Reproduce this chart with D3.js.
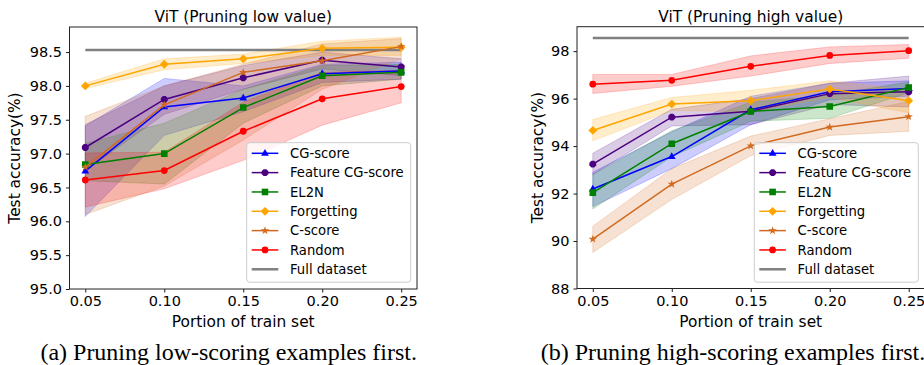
<!DOCTYPE html>
<html>
<head>
<meta charset="utf-8">
<script src="https://cdn.jsdelivr.net/npm/d3@7"></script>
<style>
  body { margin: 0; background: #fff; }
  svg { display: block; }
  text { font-family: "DejaVu Sans", sans-serif; fill: #000; }
  .caption { font-family: "Liberation Serif", "Times New Roman", serif; }
</style>
</head>
<body>
<svg id="fig" width="924" height="365"></svg>
<script>
// ---- shared categories ----
const portions = [0.05, 0.10, 0.15, 0.20, 0.25];
const methodNames = ["CG-score", "Feature CG-score", "EL2N", "Forgetting", "C-score", "Random"];
const fullName = "Full dataset";

// ---- (a) pruning low value: mean test accuracy and shaded [low, high] range ----
const lowCG        = [96.74, 97.69, 97.82, 98.18, 98.22];
const lowCGBand    = [[96.07, 97.41], [97.27, 98.11], [97.62, 98.00], [98.05, 98.32], [98.10, 98.35]];
const lowFeat      = [97.09, 97.80, 98.12, 98.38, 98.28];
const lowFeatBand  = [[96.75, 97.43], [97.58, 98.00], [97.95, 98.30], [98.25, 98.50], [98.15, 98.40]];
const lowEL2N      = [96.84, 97.00, 97.68, 98.15, 98.20];
const lowEL2NBand  = [[96.60, 97.15], [96.55, 97.45], [97.45, 97.95], [98.00, 98.30], [98.10, 98.32]];
const lowForg      = [98.00, 98.32, 98.40, 98.555, 98.57];
const lowForgBand  = [[97.96, 98.04], [98.24, 98.40], [98.33, 98.47], [98.45, 98.66], [98.45, 98.72]];
const lowCS        = [96.80, 97.72, 98.20, 98.37, 98.58];
const lowCSBand    = [[96.10, 97.55], [96.52, 98.00], [97.20, 98.32], [97.95, 98.62], [98.40, 98.70]];
const lowRand      = [96.61, 96.75, 97.33, 97.81, 97.99];
const lowRandBand  = [[96.21, 97.01], [96.48, 97.02], [96.90, 97.76], [97.42, 98.20], [97.75, 98.23]];
const lowFull      = [98.53, 98.53, 98.53, 98.53, 98.53];

// ---- (b) pruning high value ----
const highCG       = [92.19, 93.56, 95.53, 96.29, 96.43];
const highCGBand   = [[91.45, 92.90], [93.05, 94.60], [94.90, 96.10], [95.95, 96.65], [96.10, 96.75]];
const highFeat     = [93.24, 95.22, 95.47, 96.21, 96.29];
const highFeatBand = [[92.80, 93.70], [94.85, 95.55], [94.90, 96.00], [95.75, 96.65], [95.65, 96.95]];
const highEL2N     = [92.04, 94.10, 95.46, 95.67, 96.47];
const highEL2NBand = [[91.35, 92.80], [93.55, 94.65], [95.05, 95.85], [95.17, 96.15], [96.25, 96.70]];
const highForg     = [94.66, 95.77, 95.91, 96.40, 95.91];
const highForgBand = [[94.22, 95.12], [95.50, 96.05], [95.45, 96.35], [96.05, 96.75], [95.40, 96.35]];
const highCS       = [90.08, 92.40, 94.01, 94.80, 95.24];
const highCSBand   = [[89.52, 90.62], [91.75, 93.05], [93.60, 94.42], [94.45, 95.15], [94.62, 95.88]];
const highRand     = [96.61, 96.77, 97.36, 97.82, 98.02];
const highRandBand = [[96.22, 97.02], [96.52, 97.02], [96.95, 97.80], [97.48, 98.18], [97.70, 98.28]];
const highFull     = [98.55, 98.55, 98.55, 98.55, 98.55];

// ---- tick labels ----
const xTicks = [0.05, 0.10, 0.15, 0.20, 0.25];
const lowYTicks = [95.0, 95.5, 96.0, 96.5, 97.0, 97.5, 98.0, 98.5];
const highYTicks = [88, 90, 92, 94, 96, 98];

// ---- styling per method ----
const colors = ["#0000ff", "#4b0082", "#008000", "#ffa500", "#d2691e", "#ff0000"];
const markers = ["triangle", "octagon", "square", "diamond", "star", "circle"];
const fullColor = "#808080";

function markerPath(kind) {
  switch (kind) {
    case "triangle": return "M0,-4.4L3.9,2.4L-3.9,2.4Z";
    case "square": return "M-3.3,-3.3H3.3V3.3H-3.3Z";
    case "diamond": return "M0,-4.4L4.4,0L0,4.4L-4.4,0Z";
    case "circle": return d3.symbol(d3.symbolCircle, 36)();
    case "star": return d3.symbol(d3.symbolStar, 22)();
    case "octagon": {
      const pts = d3.range(8).map(i => {
        const a = Math.PI / 8 + i * Math.PI / 4;
        return [3.7 * Math.cos(a), 3.7 * Math.sin(a)];
      });
      return "M" + pts.map(p => p.join(",")).join("L") + "Z";
    }
  }
}

const svg = d3.select("#fig");
let clipId = 0;

function drawPanel(cfg) {
  const top = cfg.top, bottom = cfg.bottom;
  const x = d3.scaleLinear().domain([0.04, 0.26]).range([cfg.left, cfg.right]);
  const y = d3.scaleLinear().domain(cfg.yDomain).range([bottom, top]);
  const g = svg.append("g");

  const cid = "clip" + (clipId++);
  g.append("clipPath").attr("id", cid).append("rect")
    .attr("x", cfg.left).attr("y", top)
    .attr("width", cfg.right - cfg.left).attr("height", bottom - top);
  const plot = g.append("g").attr("clip-path", `url(#${cid})`);

  // shaded ranges (below all lines)
  const area = d3.area()
    .x(d => x(d[0]))
    .y0(d => y(d[1][0]))
    .y1(d => y(d[1][1]));
  cfg.series.forEach((s, i) => {
    plot.append("path")
      .datum(d3.zip(portions, s.band))
      .attr("d", area)
      .attr("fill", colors[i]).attr("fill-opacity", 0.2)
      .attr("stroke", colors[i]).attr("stroke-opacity", 0.2).attr("stroke-width", 1);
  });

  const line = d3.line().x(d => x(d[0])).y(d => y(d[1]));

  // full dataset reference
  plot.append("path")
    .datum(d3.zip(portions, cfg.full))
    .attr("d", line)
    .attr("fill", "none").attr("stroke", fullColor).attr("stroke-width", 2.5);

  // method lines and markers
  cfg.series.forEach((s, i) => {
    plot.append("path")
      .datum(d3.zip(portions, s.mean))
      .attr("d", line)
      .attr("fill", "none").attr("stroke", colors[i]).attr("stroke-width", 1.5);
    plot.selectAll(null)
      .data(d3.zip(portions, s.mean))
      .enter().append("path")
      .attr("transform", d => `translate(${x(d[0])},${y(d[1])})`)
      .attr("d", markerPath(markers[i]))
      .attr("fill", colors[i]);
  });

  // axes
  const xAxis = g.append("g").attr("transform", `translate(0,${bottom})`)
    .call(d3.axisBottom(x).tickValues(xTicks).tickFormat(d3.format(".2f")).tickSizeInner(3.5).tickSizeOuter(0).tickPadding(3.5));
  const yAxis = g.append("g").attr("transform", `translate(${cfg.left},0)`)
    .call(d3.axisLeft(y).tickValues(cfg.yTicks).tickFormat(cfg.yFormat).tickSizeInner(3.5).tickSizeOuter(0).tickPadding(4));
  [xAxis, yAxis].forEach(a => {
    a.select(".domain").remove();
    a.selectAll(".tick line").attr("stroke", "#000").attr("stroke-width", 0.9);
    a.selectAll(".tick text").style("font-family", "DejaVu Sans").style("font-size", "14.5px").attr("fill", "#000");
  });

  // frame
  g.append("rect")
    .attr("x", cfg.left).attr("y", top)
    .attr("width", cfg.right - cfg.left).attr("height", bottom - top)
    .attr("fill", "none").attr("stroke", "#222").attr("stroke-width", 1);

  // title and axis labels
  g.append("text").attr("x", (cfg.left + cfg.right) / 2).attr("y", 22)
    .attr("text-anchor", "middle").style("font-size", "15.4px").text(cfg.title);
  g.append("text").attr("x", (cfg.left + cfg.right) / 2).attr("y", 327)
    .attr("text-anchor", "middle").style("font-size", "15.4px").text("Portion of train set");
  g.append("text")
    .attr("transform", `translate(${cfg.ylabelX},${(top + bottom) / 2}) rotate(-90)`)
    .attr("text-anchor", "middle").attr("dy", "0.35em")
    .style("font-size", "15.4px").text("Test accuracy(%)");

  // legend
  const lx = cfg.legendX, ly = 142.7, lw = 164, lh = 139.5, step = 19.33;
  const lg = g.append("g");
  lg.append("rect").attr("x", lx).attr("y", ly).attr("width", lw).attr("height", lh)
    .attr("rx", 3).attr("fill", "#fff").attr("fill-opacity", 0.8)
    .attr("stroke", "#cccccc").attr("stroke-width", 1);
  const entries = methodNames.map((n, i) => ({ name: n, color: colors[i], marker: markers[i], width: 1.5 }))
    .concat([{ name: fullName, color: fullColor, marker: null, width: 2.5 }]);
  entries.forEach((e, i) => {
    const cy = ly + 10.6 + i * step;
    lg.append("line").attr("x1", lx + 5).attr("x2", lx + 31.6).attr("y1", cy).attr("y2", cy)
      .attr("stroke", e.color).attr("stroke-width", e.width);
    if (e.marker) {
      lg.append("path").attr("transform", `translate(${lx + 18.3},${cy})`)
        .attr("d", markerPath(e.marker)).attr("fill", e.color);
    }
    lg.append("text").attr("x", lx + 43.3).attr("y", cy).attr("dy", "0.35em")
      .style("font-size", "13.2px").text(e.name);
  });

  // caption
  svg.append("text").attr("class", "caption")
    .attr("x", cfg.captionX).attr("y", 360)
    .attr("text-anchor", "middle")
    .style("font-family", "Liberation Serif, serif").style("font-size", "24px")
    .text(cfg.caption);
}

drawPanel({
  left: 69.5, right: 417, top: 27, bottom: 289,
  yDomain: [95, 98.87], yTicks: lowYTicks, yFormat: d3.format(".1f"),
  title: "ViT (Pruning low value)",
  ylabelX: 15, legendX: 246.7, captionX: 228.7,
  caption: "(a) Pruning low-scoring examples first.",
  full: lowFull,
  series: [
    { mean: lowCG, band: lowCGBand },
    { mean: lowFeat, band: lowFeatBand },
    { mean: lowEL2N, band: lowEL2NBand },
    { mean: lowForg, band: lowForgBand },
    { mean: lowCS, band: lowCSBand },
    { mean: lowRand, band: lowRandBand }
  ]
});

drawPanel({
  left: 577, right: 924.5, top: 26.7, bottom: 288.5,
  yDomain: [88, 99.03], yTicks: highYTicks, yFormat: d3.format("d"),
  title: "ViT (Pruning high value)",
  ylabelX: 538, legendX: 754.3, captionX: 733,
  caption: "(b) Pruning high-scoring examples first.",
  full: highFull,
  series: [
    { mean: highCG, band: highCGBand },
    { mean: highFeat, band: highFeatBand },
    { mean: highEL2N, band: highEL2NBand },
    { mean: highForg, band: highForgBand },
    { mean: highCS, band: highCSBand },
    { mean: highRand, band: highRandBand }
  ]
});
</script>
</body>
</html>
